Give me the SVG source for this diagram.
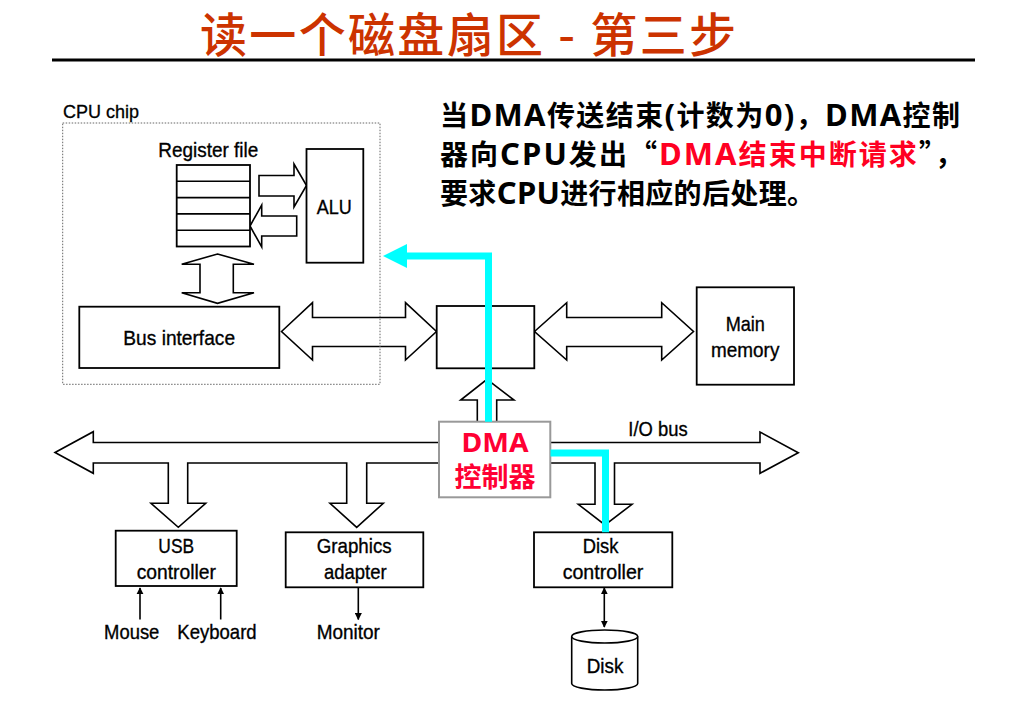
<svg xmlns="http://www.w3.org/2000/svg" width="1013" height="703" viewBox="0 0 1013 703">
<style>
.box{fill:#fff;stroke:#000;stroke-width:1.8}
.shape{fill:#fff;stroke:#000;stroke-width:1.6;stroke-linejoin:miter}
.lbl{font-family:"Liberation Sans",Arial,sans-serif;font-size:21px;fill:#000;stroke:#000;stroke-width:0.35px;text-anchor:middle}
.cjk{font-family:"Noto Sans CJK SC",sans-serif}
.mix{font-family:"Noto Sans","Noto Sans CJK SC",sans-serif}
.lat{font-size:31px}
.cyan{fill:none;stroke:#00FFFF;stroke-width:7;stroke-linejoin:miter}
.thin{stroke:#000;stroke-width:1.6;fill:none}
</style>
<defs>
<marker id="ah" viewBox="0 0 10 10" refX="9" refY="5" markerWidth="4.5" markerHeight="4.5" orient="auto-start-reverse" markerUnits="strokeWidth">
<path d="M0,0 L10,5 L0,10 z" fill="#000"/>
</marker>
</defs>
<rect width="1013" height="703" fill="#fff"/>

<g id="title">
<text x="200" y="52" class="cjk" font-size="47" font-weight="500" fill="#CC3300" textLength="536" lengthAdjust="spacing">读一个磁盘扇区 - 第三步</text>
<line x1="52" y1="60" x2="975" y2="60" stroke="#000" stroke-width="3"/>
</g>

<g id="description" class="mix" font-size="28" font-weight="bold" fill="#000">
<text x="440" y="126" textLength="520" lengthAdjust="spacing">当<tspan class="lat">DMA</tspan>传送结束<tspan class="lat">(</tspan>计数为<tspan class="lat">0)</tspan>，<tspan class="lat">DMA</tspan>控制</text>
<text x="440" y="165" textLength="523" lengthAdjust="spacing">器向<tspan class="lat">CPU</tspan>发出<tspan class="cjk">“</tspan><tspan fill="#FF0022"><tspan class="lat">DMA</tspan>结束中断请求</tspan><tspan class="cjk">”</tspan>，</text>
<text x="440" y="204" textLength="375" lengthAdjust="spacing">要求<tspan class="lat">CPU</tspan>进行相应的后处理。</text>
</g>

<g id="connectors">
<!-- register file -> ALU -->
<polygon class="shape" points="259,175.5 294,175.5 294,164 306.5,185.5 294,207 294,196 259,196"/>
<!-- ALU -> register file -->
<polygon class="shape" points="296.7,216 261.7,216 261.7,205 250,226 261.7,247 261.7,236 296.7,236"/>
<!-- register file <-> bus interface -->
<polygon class="shape" points="217.5,254 254,264.3 233.3,264.3 233.3,292.7 254,292.7 217.5,303.3 181.7,292.7 200,292.7 200,264.3 181.7,264.3"/>
<!-- bus interface <-> bridge -->
<polygon class="shape" points="281.5,331.5 312.5,302.7 312.5,317.5 405.5,317.5 405.5,302.7 436.5,331.5 405.5,360 405.5,346.5 312.5,346.5 312.5,360"/>
<!-- bridge <-> main memory -->
<polygon class="shape" points="534.5,331.5 566.7,302.7 566.7,317.5 661.7,317.5 661.7,302.7 693.5,331.5 661.7,360 661.7,346.5 566.7,346.5 566.7,360"/>
<!-- DMA -> bridge -->
<polygon class="shape" points="487,379.3 514,400 496.7,400 496.7,421.7 477.3,421.7 477.3,400 460.7,400"/>
<!-- I/O bus -->
<polygon class="shape" points="55,452.5 93.3,431.7 93.3,442.5 760,442.5 760,432 798.3,452.7 760,473.3 760,463 614.5,463 614.5,504.3 632,504.3 605,525 578.3,504.3 595,504.3 595,463 366.7,463 366.7,503.3 383.3,503.3 356.7,527.3 330,503.3 346.7,503.3 346.7,463 187.7,463 187.7,503.3 205.7,503.3 178.3,527.3 151,503.3 168.3,503.3 168.3,463 93.3,463 93.3,473.3"/>
<!-- small device arrows -->
<line class="thin" x1="140" y1="619.5" x2="140" y2="588" marker-end="url(#ah)"/>
<line class="thin" x1="220.7" y1="619.5" x2="220.7" y2="588" marker-end="url(#ah)"/>
<line class="thin" x1="358.3" y1="588" x2="358.3" y2="619.5" marker-end="url(#ah)"/>
<line class="thin" x1="604.3" y1="588" x2="604.3" y2="627" marker-start="url(#ah)" marker-end="url(#ah)"/>
</g>

<g id="cpu-chip">
<text x="63" y="118" font-family="Liberation Sans,Arial,sans-serif" font-size="18" fill="#000" stroke="#000" stroke-width="0.3">CPU chip</text>
</g>

<g id="register-file">
<text x="208.3" y="157" class="lbl" font-size="18.5" textLength="100" lengthAdjust="spacingAndGlyphs">Register file</text>
<rect class="box" x="176.7" y="165" width="73.3" height="81.5"/>
<line class="thin" x1="176.7" y1="181.3" x2="250" y2="181.3"/>
<line class="thin" x1="176.7" y1="197.6" x2="250" y2="197.6"/>
<line class="thin" x1="176.7" y1="213.9" x2="250" y2="213.9"/>
<line class="thin" x1="176.7" y1="230.2" x2="250" y2="230.2"/>
</g>

<g id="alu">
<rect class="box" x="306.5" y="149" width="56.8" height="113.7"/>
<text x="334.2" y="214" class="lbl" font-size="19.5" textLength="35" lengthAdjust="spacingAndGlyphs">ALU</text>
</g>

<g id="bus-interface">
<rect class="box" x="79.3" y="306.7" width="200" height="61.3"/>
<text x="179.2" y="345" class="lbl" textLength="111.7" lengthAdjust="spacingAndGlyphs">Bus interface</text>
</g>

<rect id="cpu-chip-border" x="62.7" y="123" width="317.3" height="261.3" fill="none" stroke="#666" stroke-width="1" stroke-dasharray="1.5,1.5"/>

<g id="bridge">
<rect class="box" x="436.7" y="306" width="97.6" height="62.3"/>
</g>

<g id="main-memory">
<rect class="box" x="696.7" y="287.3" width="97.3" height="97.4" stroke="#333"/>
<text x="745.3" y="330.7" class="lbl" font-size="20.5" textLength="39.3" lengthAdjust="spacingAndGlyphs">Main</text>
<text x="745.2" y="357.3" class="lbl" font-size="20.5" textLength="68.3" lengthAdjust="spacingAndGlyphs">memory</text>
</g>

<g id="io-bus-label">
<text x="658" y="436" class="lbl" textLength="59.3" lengthAdjust="spacingAndGlyphs">I/O bus</text>
</g>

<g id="dma">
<rect x="439" y="421.7" width="111.3" height="75.6" fill="#fff" stroke="#999" stroke-width="2"/>
<text x="495" y="452" class="mix" font-size="27" font-weight="bold" fill="#FF0033" text-anchor="middle" textLength="67" lengthAdjust="spacingAndGlyphs">DMA</text>
<text x="495" y="487" class="cjk" font-size="27" font-weight="bold" fill="#FF0033" text-anchor="middle">控制器</text>
</g>

<g id="usb-controller">
<rect class="box" x="115.7" y="530.7" width="121" height="55.3"/>
<text x="176.2" y="553.3" class="lbl" textLength="35.7" lengthAdjust="spacingAndGlyphs">USB</text>
<text x="176.3" y="579.3" class="lbl" textLength="79.3" lengthAdjust="spacingAndGlyphs">controller</text>
</g>

<g id="graphics-adapter">
<rect class="box" x="285.7" y="532.3" width="137.6" height="55"/>
<text x="354.2" y="553.3" class="lbl" textLength="75" lengthAdjust="spacingAndGlyphs">Graphics</text>
<text x="355.3" y="579.3" class="lbl" textLength="62.7" lengthAdjust="spacingAndGlyphs">adapter</text>
</g>

<g id="disk-controller">
<rect class="box" x="534" y="532.3" width="138.3" height="55"/>
<text x="600.5" y="553.3" class="lbl" textLength="35.7" lengthAdjust="spacingAndGlyphs">Disk</text>
<text x="603" y="579.3" class="lbl" textLength="80.7" lengthAdjust="spacingAndGlyphs">controller</text>
</g>

<g id="mouse"><text x="131.7" y="639.3" class="lbl" textLength="55.3" lengthAdjust="spacingAndGlyphs">Mouse</text></g>
<g id="keyboard"><text x="217" y="639.3" class="lbl" textLength="79.3" lengthAdjust="spacingAndGlyphs">Keyboard</text></g>
<g id="monitor"><text x="348.3" y="639.3" class="lbl" textLength="63.3" lengthAdjust="spacingAndGlyphs">Monitor</text></g>

<g id="disk">
<path d="M571.7,636.5 V683.5 A33,6.5 0 0 0 637.7,683.5 V636.5" fill="#fff" stroke="#000" stroke-width="1.6"/>
<ellipse cx="604.7" cy="636.5" rx="33" ry="6.5" fill="#fff" stroke="#000" stroke-width="1.6"/>
<text x="605" y="673.3" class="lbl" textLength="36.7" lengthAdjust="spacingAndGlyphs">Disk</text>
</g>

<g id="interrupt-path">
<path class="cyan" d="M488.5,421.7 V256 H405"/>
<polygon points="383,256 407,244 407,268" fill="#00FFFF"/>
<path class="cyan" d="M550.5,453 H605.5 V532.3"/>
</g>
</svg>
